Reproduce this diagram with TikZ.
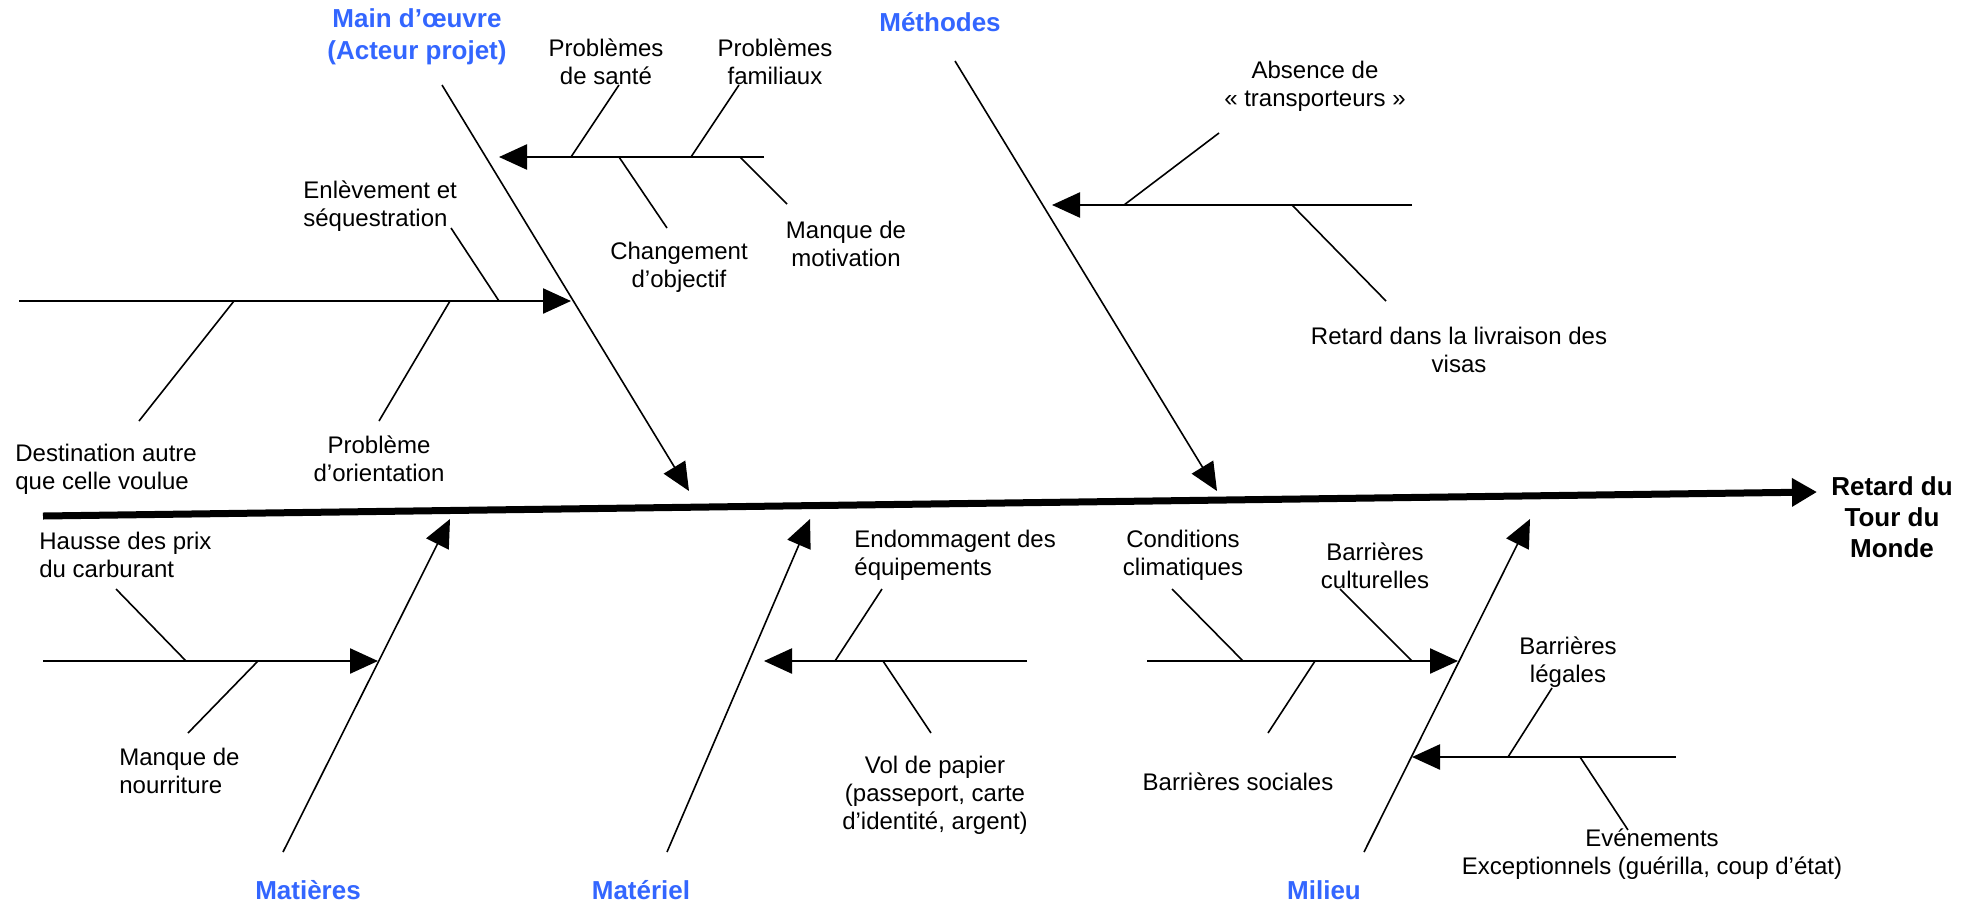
\documentclass[tikz,border=0pt]{standalone}
\usepackage{fontspec}
\setmainfont{Liberation Sans}
\usepackage{xcolor}
\usetikzlibrary{arrows.meta}
\definecolor{catblue}{RGB}{51,102,255}

\begin{document}
\begin{tikzpicture}[x=0.5pt, y=-0.5pt,
    spine/.style={line width=3.5pt, -{Triangle[length=12.5pt, width=13.5pt]}},
    bone/.style={line width=0.8pt, -{Triangle[length=14pt, width=12.5pt]}},
    branch/.style={line width=1.2pt, -{Triangle[length=14pt, width=12.5pt]}},
    rib/.style={line width=0.8pt},
    cause/.style={font=\fontsize{12}{14}\selectfont, align=center, inner sep=0pt},
    causeleft/.style={cause, align=left, anchor=west},
    category/.style={font=\fontsize{13}{16}\selectfont\bfseries, text=catblue, align=center, inner sep=0pt},
    effect/.style={font=\fontsize{13}{15.5}\selectfont\bfseries, align=center, inner sep=0pt}]
    \useasboundingbox (0,0) rectangle (1980,906);

    \coordinate (tail) at (43,516);
    \coordinate (head) at (1817,492);
    \node[effect] (effect) at (1892,517) {Retard du\\Tour du\\Monde};
    \draw[spine] (tail) -- (head);

    \node[category] (main) at (417,37) {Main d’œuvre\\(Acteur projet)};
    \coordinate (mainA) at (442,85);
    \coordinate (mainB) at (689,491);
    \draw[bone] (mainA) -- (mainB);

    \coordinate (upA) at (764,157);
    \coordinate (upB) at (499,157);
    \draw[branch] (upA) -- (upB);
    \node[cause] (sante) at (606,62) {Problèmes\\de santé};
    \coordinate (santeA) at (619,85);
    \coordinate (santeB) at (571,157);
    \draw[rib] (santeA) -- (santeB);
    \node[cause] (famille) at (775,62) {Problèmes\\familiaux};
    \coordinate (familleA) at (739,85);
    \coordinate (familleB) at (691,157);
    \draw[rib] (familleA) -- (familleB);
    \node[cause] (objectif) at (679,267) {Changement\\d’objectif};
    \coordinate (objectifA) at (619,157);
    \coordinate (objectifB) at (667,228);
    \draw[rib] (objectifA) -- (objectifB);
    \node[cause] (motiv) at (846,244) {Manque de\\motivation};
    \coordinate (motivA) at (740,157);
    \coordinate (motivB) at (787,204);
    \draw[rib] (motivA) -- (motivB);

    \coordinate (leftA) at (19,301);
    \coordinate (leftB) at (571,301);
    \draw[branch] (leftA) -- (leftB);
    \node[causeleft] (enlev) at (303,206) {Enlèvement et\\séquestration};
    \coordinate (enlevA) at (451,228);
    \coordinate (enlevB) at (499,301);
    \draw[rib] (enlevA) -- (enlevB);
    \node[causeleft] (dest) at (15,469) {Destination autre\\que celle voulue};
    \coordinate (destA) at (234,301);
    \coordinate (destB) at (139,421);
    \draw[rib] (destA) -- (destB);
    \node[cause] (orient) at (379,459) {Problème\\d’orientation};
    \coordinate (orientA) at (450,301);
    \coordinate (orientB) at (379,421);
    \draw[rib] (orientA) -- (orientB);

    \node[category] (meth) at (940,22) {Méthodes};
    \coordinate (methA) at (955,61);
    \coordinate (methB) at (1217,491);
    \draw[bone] (methA) -- (methB);
    \coordinate (methbrA) at (1412,205);
    \coordinate (methbrB) at (1052,205);
    \draw[branch] (methbrA) -- (methbrB);
    \node[cause] (transp) at (1315,86) {Absence de\\«~transporteurs~»};
    \coordinate (transpA) at (1219,133);
    \coordinate (transpB) at (1124,205);
    \draw[rib] (transpA) -- (transpB);
    \node[cause] (visas) at (1459,350) {Retard dans la livraison des\\visas};
    \coordinate (visasA) at (1292,205);
    \coordinate (visasB) at (1386,301);
    \draw[rib] (visasA) -- (visasB);

    \node[category] (matieres) at (308,890) {Matières};
    \coordinate (matieresA) at (283,852);
    \coordinate (matieresB) at (450,519);
    \draw[bone] (matieresA) -- (matieresB);
    \coordinate (matbrA) at (43,661);
    \coordinate (matbrB) at (378,661);
    \draw[branch] (matbrA) -- (matbrB);
    \node[causeleft] (hausse) at (39,555) {Hausse des prix\\du carburant};
    \coordinate (hausseA) at (116,589);
    \coordinate (hausseB) at (186,661);
    \draw[rib] (hausseA) -- (hausseB);
    \node[causeleft] (nourr) at (119,771) {Manque de\\nourriture};
    \coordinate (nourrA) at (258,661);
    \coordinate (nourrB) at (188,733);
    \draw[rib] (nourrA) -- (nourrB);

    \node[category] (materiel) at (641,890) {Matériel};
    \coordinate (materielA) at (667,852);
    \coordinate (materielB) at (810,519);
    \draw[bone] (materielA) -- (materielB);
    \coordinate (equipbrA) at (1027,661);
    \coordinate (equipbrB) at (764,661);
    \draw[branch] (equipbrA) -- (equipbrB);
    \node[causeleft] (endom) at (854,555) {Endommagent des\\équipements};
    \coordinate (endomA) at (882,589);
    \coordinate (endomB) at (835,661);
    \draw[rib] (endomA) -- (endomB);
    \node[cause] (vol) at (935,795) {Vol de papier\\(passeport, carte\\d’identité, argent)};
    \coordinate (volA) at (883,661);
    \coordinate (volB) at (931,733);
    \draw[rib] (volA) -- (volB);

    \node[category] (milieu) at (1324,890) {Milieu};
    \coordinate (milieuA) at (1364,852);
    \coordinate (milieuB) at (1530,519);
    \draw[bone] (milieuA) -- (milieuB);
    \coordinate (milbrA) at (1147,661);
    \coordinate (milbrB) at (1458,661);
    \draw[branch] (milbrA) -- (milbrB);
    \node[cause] (climat) at (1183,555) {Conditions\\climatiques};
    \coordinate (climatA) at (1172,589);
    \coordinate (climatB) at (1243,661);
    \draw[rib] (climatA) -- (climatB);
    \node[cause] (cultur) at (1375,566) {Barrières\\culturelles};
    \coordinate (culturA) at (1340,589);
    \coordinate (culturB) at (1412,661);
    \draw[rib] (culturA) -- (culturB);
    \node[cause] (social) at (1238,782) {Barrières sociales};
    \coordinate (socialA) at (1315,661);
    \coordinate (socialB) at (1268,733);
    \draw[rib] (socialA) -- (socialB);
    \coordinate (legbrA) at (1676,757);
    \coordinate (legbrB) at (1412,757);
    \draw[branch] (legbrA) -- (legbrB);
    \node[cause] (legal) at (1568,662) {Barrières\\légales};
    \coordinate (legalA) at (1552,688);
    \coordinate (legalB) at (1508,757);
    \draw[rib] (legalA) -- (legalB);
    \node[cause] (except) at (1652,854) {Evénements\\Exceptionnels (guérilla, coup d’état)};
    \coordinate (exceptA) at (1580,757);
    \coordinate (exceptB) at (1628,830);
    \draw[rib] (exceptA) -- (exceptB);
\end{tikzpicture}
\end{document}
